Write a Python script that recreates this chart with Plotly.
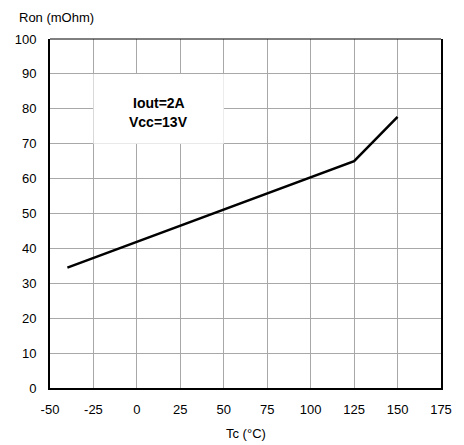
import plotly.graph_objects as go

# On-resistance vs case temperature
temp_c = [-40, 125, 150]
ron_mohm = [34.5, 65.0, 77.7]

x_ticks = [-50, -25, 0, 25, 50, 75, 100, 125, 150, 175]
y_ticks = [0, 10, 20, 30, 40, 50, 60, 70, 80, 90, 100]

condition_lines = ["Iout=2A", "Vcc=13V"]
condition_y = [81.7, 76.2]

FONT = "Arial, Liberation Sans, sans-serif"
GRID = "#a8a8a8"

fig = go.Figure()
fig.add_trace(go.Scatter(
    x=temp_c, y=ron_mohm, mode="lines",
    line=dict(color="black", width=2.5),
    hoverinfo="skip", showlegend=False,
))

# condition label box, blanks out the grid behind it
fig.add_shape(type="rect", x0=-25, x1=50, y0=70, y1=90,
              fillcolor="white", line=dict(width=0), layer="between")
for txt, yv in zip(condition_lines, condition_y):
    fig.add_annotation(x=12.5, y=yv, text=f"<b>{txt}</b>",
                       showarrow=False, font=dict(family=FONT, size=14, color="black"))

# thin top border
fig.add_shape(type="line", xref="paper", yref="paper", x0=0, x1=1, y0=1, y1=1,
              line=dict(color="black", width=1))

fig.add_annotation(xref="paper", yref="paper", x=-0.084, y=1.063,
                   xanchor="left", yanchor="middle", text="Ron (mOhm)",
                   showarrow=False, font=dict(family=FONT, size=13, color="black"))
fig.add_annotation(xref="paper", yref="paper", x=0.502, y=-0.129,
                   xanchor="center", yanchor="middle", text="Tc (°C)",
                   showarrow=False, font=dict(family=FONT, size=13, color="black"))

fig.update_xaxes(range=[-50, 175], tickvals=x_ticks, ticktext=[str(v) for v in x_ticks],
                 showgrid=True, gridcolor=GRID, gridwidth=1, zeroline=False,
                 showline=True, linecolor="black", linewidth=2,
                 ticks="", ticklabelstandoff=8,
                 tickfont=dict(family=FONT, size=13, color="black"))
fig.update_yaxes(range=[0, 100], tickvals=y_ticks,
                 showgrid=True, gridcolor=GRID, gridwidth=1, zeroline=False,
                 showline=True, linecolor="black", linewidth=2, mirror=True,
                 ticks="", ticklabelstandoff=9,
                 tickfont=dict(family=FONT, size=13, color="black"))

fig.update_layout(
    width=464, height=445,
    margin=dict(l=49.5, r=16, t=39, b=57),
    paper_bgcolor="white", plot_bgcolor="white",
    font=dict(family=FONT, color="black"),
)

fig.write_html("out.html")
